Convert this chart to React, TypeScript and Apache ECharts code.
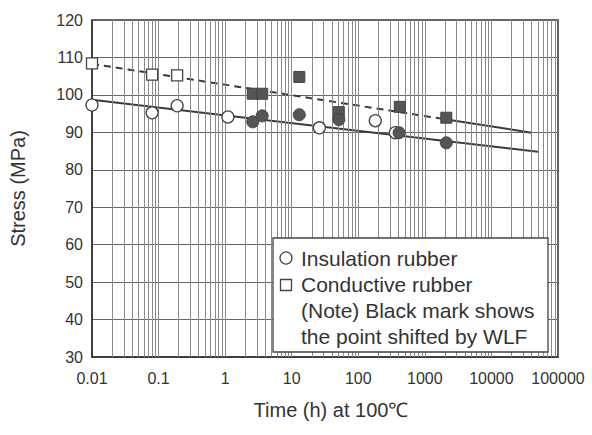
import React, { useEffect, useRef } from "react";
import * as echarts from "echarts";

// ---- data ----
const xTicks = [0.01, 0.1, 1, 10, 100, 1000, 10000, 100000];
const yTicks = [30, 40, 50, 60, 70, 80, 90, 100, 110, 120];

// Insulation rubber: original points (open circles)
const insulationOpen: [number, number][] = [
  [0.01, 97.3], [0.08, 95.2], [0.19, 97.1], [1.1, 94.1], [26, 91.2], [180, 93.1], [360, 89.9],
];
// Insulation rubber: WLF-shifted points (black circles)
const insulationShifted: [number, number][] = [
  [2.6, 92.8], [3.6, 94.4], [13, 94.7], [51, 93.4], [410, 89.9], [2100, 87.2],
];
// Conductive rubber: original points (open squares)
const conductiveOpen: [number, number][] = [
  [0.01, 108.4], [0.08, 105.4], [0.19, 105.2],
];
// Conductive rubber: WLF-shifted points (black squares)
const conductiveShifted: [number, number][] = [
  [2.6, 100.3], [3.6, 100.3], [13, 104.8], [51, 95.4], [420, 96.8], [2100, 93.9],
];
// Fitted lines
const conductiveDashed: [number, number][] = [[0.01, 108.3], [2000, 93.5]];
const conductiveSolid: [number, number][] = [[2000, 93.5], [40000, 89.9]];
const insulationLine: [number, number][] = [[0.01, 98.7], [50000, 84.8]];

const legendLines = [
  "Insulation rubber",
  "Conductive rubber",
  "(Note) Black mark shows",
  "the point shifted by WLF",
];

const FONT = "'Liberation Sans', Arial, Helvetica, sans-serif";

function fmtTick(v: number): string {
  return Math.round(Math.log10(v)) >= 0 ? String(Math.round(v)) : String(Number(v.toPrecision(3)));
}

function buildMinorGrid(): number[] {
  const vals: number[] = [];
  for (let i = 0; i < xTicks.length - 1; i++) {
    const d = xTicks[i];
    for (let m = 1; m <= 9; m++) {
      if (i === 0 && m === 1) continue;
      vals.push(Number((d * m).toPrecision(6)));
    }
  }
  return vals;
}

export default function App() {
  const ref = useRef<HTMLDivElement>(null);

  useEffect(() => {
    if (!ref.current) return;
    const chart = echarts.init(ref.current, undefined, { renderer: "svg" });
    const gridVals = buildMinorGrid();
    const ink = "#3a3a3a";
    const xMax = xTicks[xTicks.length - 1];

    chart.setOption({
      animation: false,
      backgroundColor: "#ffffff",
      textStyle: { fontFamily: FONT },
      grid: {
        left: 92,
        right: 34,
        top: 20,
        bottom: 78,
        containLabel: false,
        outerBoundsMode: "none",
        show: true,
        borderColor: "#333",
        borderWidth: 1.5,
        backgroundColor: "transparent",
      },
      xAxis: {
        type: "log",
        logBase: 10,
        min: xTicks[0],
        max: xMax,
        name: "Time (h) at 100℃",
        nameLocation: "middle",
        nameGap: 43,
        nameTextStyle: { fontSize: 20, color: "#333", fontFamily: FONT, padding: [0, 0, 0, 12] },
        axisLine: { show: true, lineStyle: { color: "#333", width: 1.5 } },
        axisTick: { show: false },
        splitLine: { show: false },
        axisLabel: {
          fontSize: 16,
          color: "#333",
          margin: 13,
          fontFamily: FONT,
          hideOverlap: false,
          showMaxLabel: true,
          showMinLabel: true,
          formatter: (v: number) => fmtTick(v),
        },
      },
      yAxis: {
        type: "value",
        min: yTicks[0],
        max: yTicks[yTicks.length - 1],
        interval: 10,
        name: "Stress (MPa)",
        nameLocation: "middle",
        nameGap: 64,
        nameTextStyle: { fontSize: 20, color: "#333", fontFamily: FONT },
        axisLine: { show: true, lineStyle: { color: "#333", width: 1.5 } },
        axisTick: { show: false },
        splitLine: { show: true, lineStyle: { color: "#666", width: 1.2 } },
        axisLabel: { fontSize: 16, color: "#333", margin: 9, fontFamily: FONT },
      },
      series: [
        {
          type: "line",
          data: [],
          silent: true,
          z: 1,
          markLine: {
            silent: true,
            symbol: "none",
            label: { show: false },
            lineStyle: { color: "#8a8a8a", width: 1, type: "solid" },
            data: gridVals.map((v) => ({ xAxis: v })),
          },
        },
        {
          type: "line",
          data: insulationLine,
          showSymbol: false,
          symbol: "none",
          z: 3,
          lineStyle: { color: ink, width: 2 },
        },
        {
          type: "line",
          data: conductiveDashed,
          showSymbol: false,
          symbol: "none",
          z: 3,
          lineStyle: { color: ink, width: 2, type: [7, 5] },
        },
        {
          type: "line",
          data: conductiveSolid,
          showSymbol: false,
          symbol: "none",
          z: 3,
          lineStyle: { color: ink, width: 2 },
        },
        {
          type: "scatter",
          data: conductiveOpen,
          symbol: "rect",
          symbolSize: 11,
          z: 5,
          itemStyle: { color: "#ffffff", borderColor: "#444", borderWidth: 1.3, opacity: 1 },
        },
        {
          type: "scatter",
          data: conductiveShifted,
          symbol: "rect",
          symbolSize: 11,
          z: 5,
          itemStyle: { color: "#555", borderColor: "#444", borderWidth: 1, opacity: 1 },
        },
        {
          type: "scatter",
          data: insulationOpen,
          symbol: "circle",
          symbolSize: 12,
          z: 5,
          itemStyle: { color: "#ffffff", borderColor: "#444", borderWidth: 1.3, opacity: 1 },
        },
        {
          type: "scatter",
          data: insulationShifted,
          symbol: "circle",
          symbolSize: 12,
          z: 5,
          itemStyle: { color: "#555", borderColor: "#444", borderWidth: 1, opacity: 1 },
        },
      ],
      graphic: [
        {
          type: "group",
          z: 100,
          children: [
            {
              type: "rect",
              shape: { x: 273, y: 238, width: 275, height: 114 },
              style: { fill: "#ffffff", stroke: "#444", lineWidth: 1.3 },
              z: 100,
            },
            {
              type: "circle",
              shape: { cx: 286, cy: 258, r: 6 },
              style: { fill: "#ffffff", stroke: "#444", lineWidth: 1.3 },
              z: 101,
            },
            {
              type: "rect",
              shape: { x: 280.5, y: 279.5, width: 11, height: 11 },
              style: { fill: "#ffffff", stroke: "#444", lineWidth: 1.3 },
              z: 101,
            },
            ...legendLines.map((t, i) => ({
              type: "text",
              x: 301,
              y: 258 + i * 26,
              z: 101,
              style: {
                text: t,
                fontSize: 21,
                fontFamily: FONT,
                fill: "#333",
                textAlign: "left",
                textVerticalAlign: "middle",
              },
            })),
          ],
        },
      ],
    });

    return () => chart.dispose();
  }, []);

  return (
    <div
      ref={ref}
      style={{ position: "fixed", left: 0, top: 0, width: 592, height: 435, background: "#fff" }}
    />
  );
}
